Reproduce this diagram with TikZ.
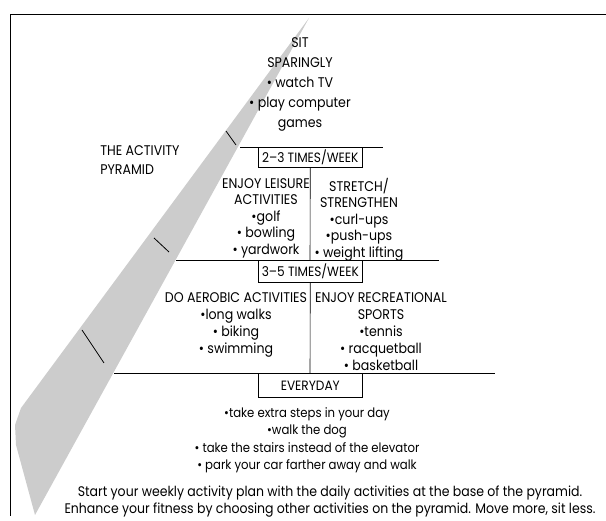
\documentclass[tikz,border=0pt]{standalone}
\usepackage{fontspec}
\setmainfont{Poppins}[FakeStretch=0.9]
\usetikzlibrary{positioning}

\tikzset{
  often/.style={draw, minimum width=104pt, minimum height=20pt, inner sep=0pt,
    font=\fontsize{13.5}{15}\selectfont},
  blurb/.style={align=center, inner sep=0pt, anchor=north,
    font=\fontsize{14}{17}\selectfont},
  note/.style={align=center, inner sep=0pt, anchor=north,
    font=\fontsize{13.9}{17}\selectfont},
}

\begin{document}
\begin{tikzpicture}[x=1pt,y=-1pt,line width=0.6pt]
\useasboundingbox (0,0) rectangle (606,521);
% frame
\draw[line width=0.7pt] (10,516) -- (10,14) -- (606,14);
% shaded side of the pyramid
\fill[gray!40] (309,18) -- (21,408) -- (15,425) -- (16,445) -- (35,515) -- cycle;
\draw[thick] (226,131) -- (236,145);
\draw[thick] (154,238) -- (169,252);
\draw[thick] (82,330) -- (104,363);

\node[blurb, anchor=north west, align=left, font=\fontsize{14}{19}\selectfont] (title) at (100,145)
  {THE ACTIVITY\\PYRAMID};

% top
\node[blurb, font=\fontsize{14}{20}\selectfont] (sit) at (300,37)
  {SIT\\SPARINGLY\\\textbullet\ watch TV\\\textbullet\ play computer\\games};
\draw (240,147) -- (383,147);
\node[often, anchor=north west] (w23) at (258,147) {2--3 TIMES/WEEK};
\coordinate (d1) at (310,260);
\draw (w23.south) -- (d1);
\node[blurb, font=\fontsize{14}{16.5}\selectfont] (leisure) at (266,178)
  {ENJOY LEISURE\\ACTIVITIES\\\textbullet golf\\\textbullet\ bowling\\\textbullet\ yardwork};
\node[blurb, font=\fontsize{14}{16.5}\selectfont] (stretch) at (359,178)
  {STRETCH/\\STRENGTHEN\\\textbullet curl-ups\\\textbullet push-ups\\\textbullet\ weight lifting};

% middle
\draw (176,260) -- (439,260);
\node[often, anchor=north west, minimum height=22pt] (w35) at (258,260) {3--5 TIMES/WEEK};
\coordinate (d2) at (310,373);
\draw (w35.south) -- (d2);
\node[blurb] (aerobic) at (236,292)
  {DO AEROBIC ACTIVITIES\\\textbullet long walks\\\textbullet\ biking\\\textbullet\ swimming};
\node[blurb] (sports) at (381,292)
  {ENJOY RECREATIONAL\\SPORTS\\\textbullet tennis\\\textbullet\ racquetball\\\textbullet\ basketball};

% base
\draw (114,373) -- (495,373);
\node[often, anchor=north west, minimum height=24pt] (daily) at (258,373) {EVERYDAY};
\node[blurb, font=\fontsize{13}{17.5}\selectfont] (steps) at (307,407)
  {\textbullet take extra steps in your day\\\textbullet walk the dog\\
   \textbullet\ take the stairs instead of the elevator\\\textbullet\ park your car farther away and walk};

\node[note] (plan) at (330,486)
  {Start your weekly activity plan with the daily activities at the base of the pyramid.\\
   Enhance your fitness by choosing other activities on the pyramid. Move more, sit less.};
\end{tikzpicture}
\end{document}
